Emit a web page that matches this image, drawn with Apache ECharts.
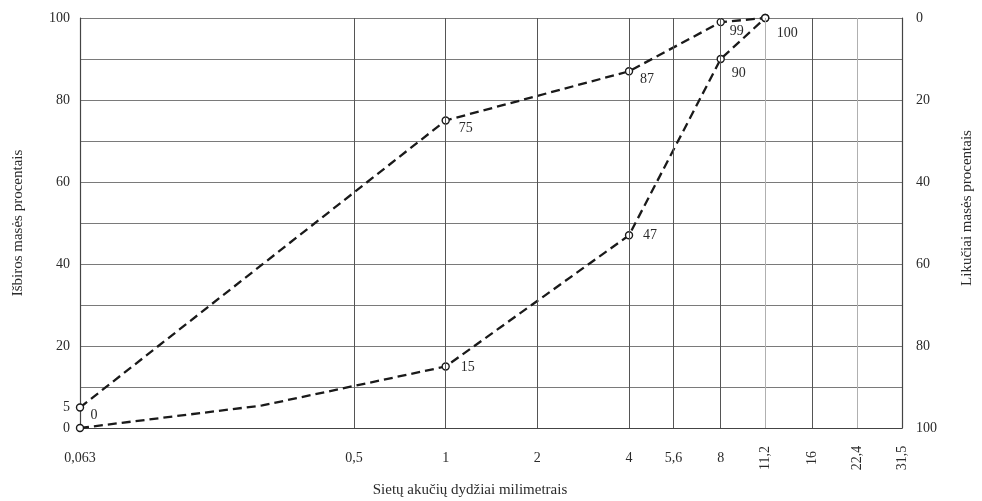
<!DOCTYPE html>
<html>
<head>
<meta charset="utf-8">
<script src="https://cdn.jsdelivr.net/npm/echarts@6/dist/echarts.min.js"></script>
<style>html,body{margin:0;padding:0;background:#fff}#c{width:982px;height:501px}</style>
</head>
<body>
<div id="c"></div>
<script>
// ---- data ----
const upperSizes = [0.063, 1, 4, 8, 11.2];
const upperValues = [5, 75, 87, 99, 100];
const upperLabels = ['', '75', '87', '99', '100'];

const lowerSizes = [0.063, 0.25, 1, 4, 8, 11.2];
const lowerValues = [0, 5.5, 15, 47, 90, 100];
const lowerLabels = ['0', '', '15', '47', '90', ''];

const sieveTicks = [0.063, 0.5, 1, 2, 4, 5.6, 8, 11.2, 16, 22.4, 31.5];
const sieveTickText = ['0,063', '0,5', '1', '2', '4', '5,6', '8', '11,2', '16', '22,4', '31,5'];
const gridSizes = [0.5, 1, 2, 4, 5.6, 8, 11.2, 16, 22.4];
const leftTicks = [0, 5, 20, 40, 60, 80, 100];

const xTitle = 'Sietų akučių dydžiai milimetrais';
const leftTitle = 'Išbiros masės procentais';
const rightTitle = 'Likučiai masės procentais';

// ---- styles ----
const FONT = 'Liberation Serif';
const TXT = '#2a2a2a';
const upperOffsets = [null, [20, 8], [18, 8], [16, 9], [22, 15]];
const lowerOffsets = [[14, -13], null, [22, 1], [21, 0], [18, 14], null];
const rotatedTicks = [11.2, 16, 22.4, 31.5];
const lightGrid = [11.2, 22.4];

function buildData(sizes, values, labels, offsets, hideSymbolIdx) {
  return sizes.map((s, i) => {
    const item = { value: [s, values[i]] };
    if (labels[i]) {
      item.label = { show: true, formatter: labels[i], position: 'inside', offset: offsets[i],
        fontFamily: FONT, fontSize: 14, color: TXT };
    }
    if (hideSymbolIdx.indexOf(i) >= 0) item.symbol = 'none';
    return item;
  });
}

const lineStyle = { color: '#1a1a1a', width: 2.3, type: [9, 5] };
const itemStyle = { color: '#ffffff', borderColor: '#1a1a1a', borderWidth: 1.4, opacity: 1 };

const chart = echarts.init(document.getElementById('c'), null, { renderer: 'canvas' });
chart.setOption({
  animation: false,
  backgroundColor: '#fff',
  grid: { left: 80, right: 80, top: 18, bottom: 73 },
  xAxis: {
    type: 'log', logBase: 2, min: 0.063, max: 31.5,
    axisLine: { show: true, onZero: false, lineStyle: { color: '#444', width: 1.2 } },
    axisTick: { show: false }, axisLabel: { show: false }, splitLine: { show: false }
  },
  yAxis: [
    {
      type: 'value', min: 0, max: 100, interval: 10, position: 'left',
      axisLine: { show: true, lineStyle: { color: '#444', width: 1.2 } },
      axisTick: { show: false },
      axisLabel: { customValues: leftTicks, fontFamily: FONT, fontSize: 14, color: TXT, margin: 10 },
      splitLine: { show: true, lineStyle: { color: '#7a7a7a', width: 1 } }
    },
    {
      type: 'value', min: 0, max: 100, interval: 20, position: 'right', inverse: true,
      axisLine: { show: true, lineStyle: { color: '#444', width: 1.2 } },
      axisTick: { show: false },
      axisLabel: { fontFamily: FONT, fontSize: 14, color: TXT, margin: 14 },
      splitLine: { show: false }
    }
  ],
  series: [
    {
      type: 'line', data: [[0.063, 0], [31.5, 0]], symbol: 'none', silent: true, z: 1,
      lineStyle: { opacity: 0 },
      markLine: {
        silent: true, symbol: ['none', 'none'], label: { show: false },
        data: gridSizes.map(v => ({ xAxis: v, lineStyle: { type: 'solid', width: 1,
          color: lightGrid.indexOf(v) >= 0 ? '#b0b0b0' : '#555' } }))
      }
    },
    {
      type: 'line', z: 3, symbol: 'circle', symbolSize: 7, showSymbol: true, showAllSymbol: true,
      lineStyle: lineStyle, itemStyle: itemStyle,
      data: buildData(lowerSizes, lowerValues, lowerLabels, lowerOffsets, [1])
    },
    {
      type: 'line', z: 4, symbol: 'circle', symbolSize: 7, showSymbol: true, showAllSymbol: true,
      lineStyle: lineStyle, itemStyle: itemStyle,
      data: buildData(upperSizes, upperValues, upperLabels, upperOffsets, [])
    }
  ]
});

const baseY = chart.convertToPixel({ yAxisIndex: 0 }, 0);
const graphics = sieveTicks.map((v, i) => {
  const x = chart.convertToPixel({ xAxisIndex: 0 }, v);
  const rot = rotatedTicks.indexOf(v) >= 0;
  return {
    type: 'text', x: x, y: baseY + 30, rotation: rot ? Math.PI / 2 : 0,
    style: { text: sieveTickText[i], fontFamily: FONT, fontSize: 14, fill: TXT,
      align: 'center', verticalAlign: 'middle' }
  };
});
graphics.push({ type: 'text', x: 470, y: 490,
  style: { text: xTitle, fontFamily: FONT, fontSize: 15, fill: TXT, align: 'center', verticalAlign: 'middle' } });
graphics.push({ type: 'text', x: 18, y: 223, rotation: Math.PI / 2,
  style: { text: leftTitle, fontFamily: FONT, fontSize: 15, fill: TXT, align: 'center', verticalAlign: 'middle' } });
graphics.push({ type: 'text', x: 967, y: 208, rotation: Math.PI / 2,
  style: { text: rightTitle, fontFamily: FONT, fontSize: 15, fill: TXT, align: 'center', verticalAlign: 'middle' } });
chart.setOption({ graphic: graphics });
</script>
</body>
</html>
